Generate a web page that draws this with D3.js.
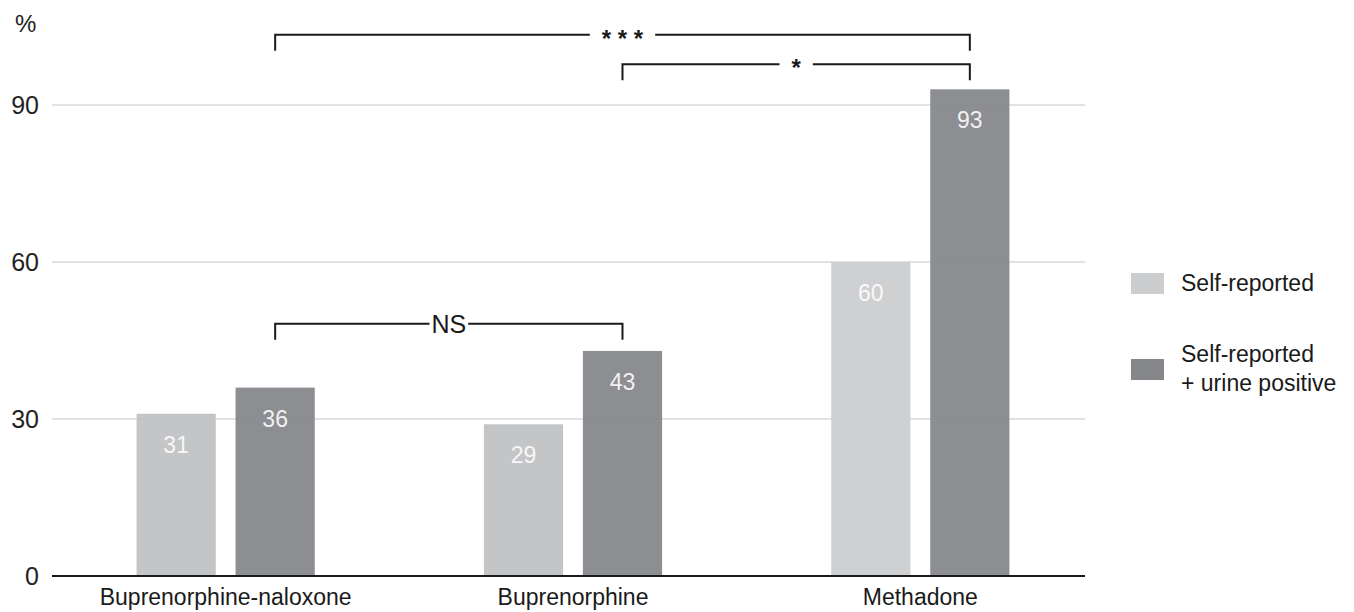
<!DOCTYPE html>
<html>
<head>
<meta charset="utf-8">
<script src="https://cdn.jsdelivr.net/npm/d3@7"></script>
<style>
  body { margin: 0; background: #fff; }
  svg { font-family: "Liberation Sans", Arial, sans-serif; }
</style>
</head>
<body>
<svg id="chart" width="1354" height="612"></svg>
<script>
// data
const groups = ["Buprenorphine-naloxone", "Buprenorphine", "Methadone"];
const series = ["Self-reported", "Self-reported + urine positive"];
const selfReported = [31, 29, 60];
const urinePositive = [36, 43, 93];
const yTicks = [0, 30, 60, 90];
const legendLabels = [["Self-reported"], ["Self-reported", "+ urine positive"]];
// significance brackets: from group, to group, height in % units, label
const brackets = [
  {from: 0, to: 1, level: 48.2, label: "NS"},
  {from: 0, to: 2, level: 103.4, label: "* * *"},
  {from: 1, to: 2, level: 97.8, label: "*"}
];

const rows = groups.map((g, i) => ({group: g, values: [selfReported[i], urinePositive[i]]}));

const svg = d3.select("#chart");
const left = 52, right = 1094, axisEnd = 1085;

let x0 = d3.scaleBand()
  .domain(groups)
  .range([left, right])
  .paddingInner(0.487)
  .paddingOuter(0.2435);

let x1 = d3.scaleBand()
  .domain(series)
  .range([0, x0.bandwidth()])
  .paddingInner(0.2);

let y = d3.scaleLinear()
  .domain([0, 90])
  .range([576, 105]);

// grid lines
svg.append("g")
  .selectAll("line")
  .data(yTicks.filter(d => d > 0))
  .enter().append("line")
  .attr("x1", left).attr("x2", axisEnd)
  .attr("y1", d => y(d)).attr("y2", d => y(d))
  .attr("stroke", "#e2e2e2")
  .attr("stroke-width", 2);

// y labels
svg.append("g")
  .selectAll("text")
  .data(yTicks)
  .enter().append("text")
  .attr("x", 39)
  .attr("y", d => y(d) + 9)
  .attr("text-anchor", "end")
  .attr("font-size", 25)
  .attr("fill", "#222")
  .text(d => d);

svg.append("text")
  .attr("x", 15).attr("y", 32)
  .attr("font-size", 24)
  .attr("fill", "#222")
  .text("%");

// bars
const lightCols = ["#c0c1c4", "#c0c1c4", "#cccdcf"];
const barG = svg.append("g")
  .selectAll("g")
  .data(rows)
  .enter().append("g")
  .attr("transform", d => `translate(${x0(d.group)},0)`);

barG.selectAll("rect")
  .data((d, gi) => d.values.map((v, si) => ({v: v, s: series[si], gi: gi})))
  .enter().append("rect")
  .attr("x", d => x1(d.s))
  .attr("y", d => y(d.v))
  .attr("width", x1.bandwidth())
  .attr("height", d => y(0) - y(d.v))
  .attr("fill", d => d.s === series[0] ? lightCols[d.gi] : "#86878b")
  .attr("fill-opacity", 0.94);

barG.selectAll("text")
  .data(d => d.values.map((v, si) => ({v: v, s: series[si]})))
  .enter().append("text")
  .attr("x", d => x1(d.s) + x1.bandwidth() / 2)
  .attr("y", d => y(d.v) + 39)
  .attr("text-anchor", "middle")
  .attr("font-size", 23)
  .attr("fill", "#fff")
  .attr("fill-opacity", 0.9)
  .text(d => d.v);

// x axis line
svg.append("line")
  .attr("x1", left).attr("x2", axisEnd)
  .attr("y1", y(0)).attr("y2", y(0))
  .attr("stroke", "#1a1a1a")
  .attr("stroke-width", 2);

svg.append("g")
  .selectAll("text")
  .data(groups)
  .enter().append("text")
  .attr("x", d => x0(d) + x0.bandwidth() / 2)
  .attr("y", 605)
  .attr("text-anchor", "middle")
  .attr("font-size", 23)
  .attr("fill", "#1a1a1a")
  .text(d => d);

// brackets
const darkCenter = i => x0(groups[i]) + x1(series[1]) + x1.bandwidth() / 2;
brackets.forEach(b => {
  const xa = darkCenter(b.from), xb = darkCenter(b.to), yy = y(b.level);
  const mid = (xa + xb) / 2;
  const g = svg.append("g");
  const lbl = g.append("text")
    .attr("x", mid)
    .attr("y", b.label === "NS" ? yy + 9 : yy + 12)
    .attr("text-anchor", "middle")
    .attr("font-size", b.label === "NS" ? 25 : 24)
    .attr("font-weight", b.label === "NS" ? "normal" : "bold")
    .attr("fill", "#1a1a1a")
    .text(b.label);
  const w = lbl.node().getComputedTextLength();
  const gap = b.label === "NS" ? 2 : 12;
  g.append("path")
    .attr("d", `M${xa},${yy + 16}V${yy}H${mid - w / 2 - gap}M${mid + w / 2 + gap},${yy}H${xb}V${yy + 16}`)
    .attr("fill", "none")
    .attr("stroke", "#1a1a1a")
    .attr("stroke-width", 2);
});

// legend
const legend = svg.append("g")
  .selectAll("g")
  .data(series)
  .enter().append("g")
  .attr("transform", (d, i) => `translate(1131,${i === 0 ? 273 : 359})`);

legend.append("rect")
  .attr("width", 33).attr("height", 21)
  .attr("fill", (d, i) => i === 0 ? "#cccdcf" : "#86878b");

legend.append("text")
  .attr("x", 50)
  .attr("font-size", 23)
  .attr("fill", "#1a1a1a")
  .each(function(d, i) {
    const t = d3.select(this);
    const lines = legendLabels[i];
    lines.forEach((s, k) => {
      t.append("tspan")
        .attr("x", 50)
        .attr("y", lines.length === 1 ? 18 : 3 + k * 29)
        .text(s);
    });
  });
</script>
</body>
</html>
